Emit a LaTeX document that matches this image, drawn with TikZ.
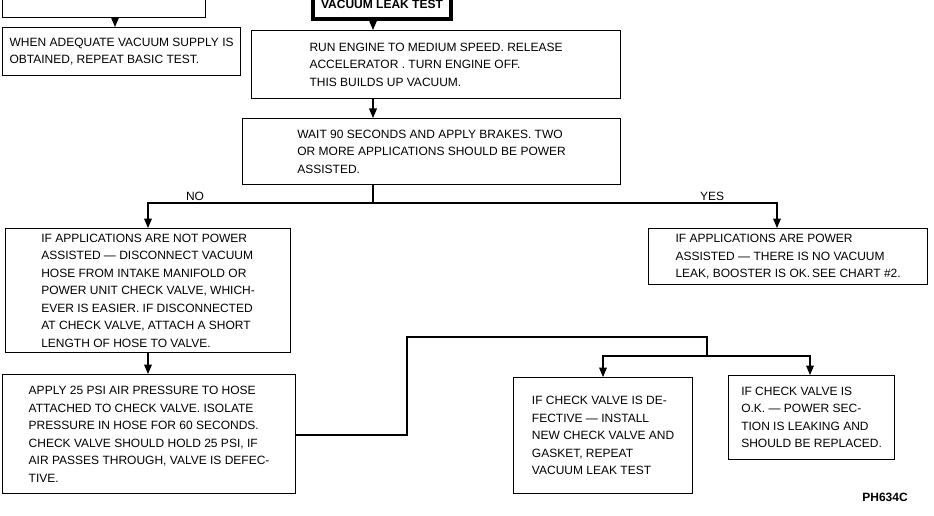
\documentclass[tikz,border=0pt]{standalone}
\usepackage{fontspec}
\setmainfont{Liberation Sans}
\usetikzlibrary{arrows,positioning}
\begin{document}
\begin{tikzpicture}[x=1pt,y=-1pt,>=triangle 45,
  font=\fontsize{12}{17.5}\selectfont]
	\tikzstyle{item}
	  =[draw, line width=1.2pt, rectangle, anchor=north west, inner xsep=7pt,
	  inner ysep=4pt, align=left]
	\tikzstyle{link}=[line width=1.2pt]
	\useasboundingbox[fill=white] (0,0) rectangle (934,516);

	\node[item,minimum width=203pt,minimum height=40pt] (top)
	  at (2,-23) {};
	\node[item,minimum width=226pt,minimum height=48pt] (supply)
	  at (2,27) {WHEN ADEQUATE VACUUM SUPPLY IS\\OBTAINED, REPEAT BASIC TEST.};
	\node[item,line width=4pt,minimum width=138pt,minimum height=36pt,
	  align=center,font=\bfseries\fontsize{12}{15}\selectfont] (leak)
	  at (311,-19) {\\VACUUM LEAK TEST};
	\node[item,minimum width=369pt,minimum height=68pt] (run)
	  at (251,30) {RUN ENGINE TO MEDIUM SPEED. RELEASE\\ACCELERATOR . TURN ENGINE OFF.\\THIS BUILDS UP VACUUM.};
	\node[item,minimum width=378pt,minimum height=66pt] (wait)
	  at (242,118) {WAIT 90 SECONDS AND APPLY BRAKES. TWO\\OR MORE APPLICATIONS SHOULD BE POWER\\ASSISTED.};
	\node[item,minimum width=285pt,minimum height=124pt] (notpower)
	  at (5,228) {IF APPLICATIONS ARE NOT POWER\\ASSISTED --- DISCONNECT VACUUM\\HOSE FROM INTAKE MANIFOLD OR\\POWER UNIT CHECK VALVE, WHICH-\\EVER IS EASIER. IF DISCONNECTED\\AT CHECK VALVE, ATTACH A SHORT\\LENGTH OF HOSE TO VALVE.};
	\node[item,minimum width=279pt,minimum height=56pt] (power)
	  at (648,228) {IF APPLICATIONS ARE POWER\\ASSISTED --- THERE IS NO VACUUM\\LEAK, BOOSTER IS OK.\,SEE CHART \#2.};
	\node[item,minimum width=293pt,minimum height=119pt] (apply)
	  at (2,374) {APPLY 25 PSI AIR PRESSURE TO HOSE\\ATTACHED TO CHECK VALVE. ISOLATE\\PRESSURE IN HOSE FOR 60 SECONDS.\\CHECK VALVE SHOULD HOLD 25 PSI, IF\\AIR PASSES THROUGH, VALVE IS DEFEC-\\TIVE.};
	\node[item,minimum width=179pt,minimum height=116pt] (defect)
	  at (513,377) {IF CHECK VALVE IS DE-\\FECTIVE --- INSTALL\\NEW CHECK VALVE AND\\GASKET, REPEAT\\VACUUM LEAK TEST};
	\node[item,minimum width=166pt,minimum height=84pt] (okay)
	  at (728,375) {IF CHECK VALVE IS\\O.K. --- POWER SEC-\\TION IS LEAKING AND\\SHOULD BE REPLACED.};
	\node[font=\bfseries\fontsize{12}{14}\selectfont] (fig)
	  at (885,497) {PH634C};

	\node (no) at (195,196) {NO};
	\node (yes) at (712,196) {YES};

	\coordinate (split) at (373,203);
	\coordinate (join) at (707,356);
	\draw[link,->] (115,17) -- (supply.north -| 115,0);
	\draw[link,->] (leak.south -| 373,0) -- (run.north -| 373,0);
	\draw[link,->] (run.south -| 373,0) -- (wait.north -| 373,0);
	\draw[link] (wait.south -| split) -- (split);
	\draw[link,->] (split) -| (notpower.north -| 148,0);
	\draw[link,->] (split) -| (power.north -| 777,0);
	\draw[link,->] (notpower.south -| 148,0) -- (apply.north -| 148,0);
	\draw[link] (apply.east |- 0,435) -- (407,435) |- (707,337) -- (join);
	\draw[link,->] (join) -| (defect.north -| 603,0);
	\draw[link,->] (join) -| (okay.north -| 810,0);
\end{tikzpicture}
\end{document}
